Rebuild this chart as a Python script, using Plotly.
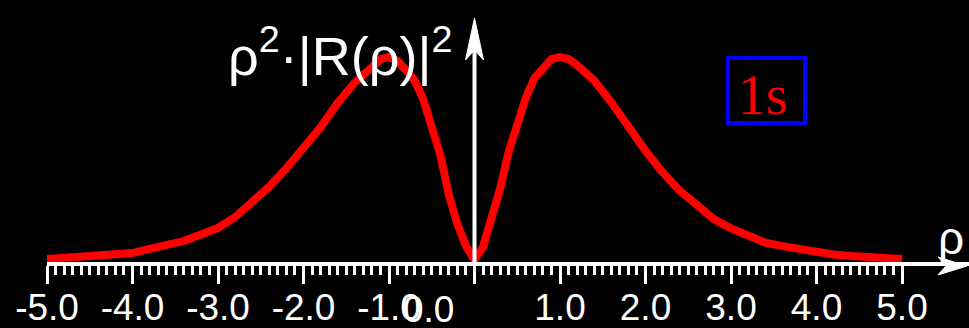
import numpy as np
import plotly.graph_objects as go

# ---- data (normalised rho^2 |R(rho)|^2 for 1s) ----
rho = [-5.0, -4.8, -4.6, -4.4, -4.2, -4.0, -3.8, -3.6, -3.4, -3.2, -3.0, -2.8,
       -2.6, -2.4, -2.2, -2.0, -1.8, -1.6, -1.4, -1.2, -1.1, -1.0, -0.9, -0.8,
       -0.7, -0.6, -0.5, -0.4, -0.3, -0.2, -0.1, 0.0,
       0.1, 0.2, 0.3, 0.4, 0.5, 0.6, 0.7, 0.8, 0.9, 1.0, 1.1, 1.2, 1.4, 1.6,
       1.8, 2.0, 2.2, 2.4, 2.6, 2.8, 3.0, 3.2, 3.4, 3.6, 3.8, 4.0, 4.2, 4.4,
       4.6, 4.8, 5.0]
density = [0.005, 0.010, 0.015, 0.020, 0.027, 0.034, 0.054, 0.074, 0.093, 0.125, 0.157, 0.210,
           0.280, 0.360, 0.450, 0.550, 0.650, 0.770, 0.870, 0.945, 0.985, 0.995, 0.975, 0.930,
           0.880, 0.790, 0.655, 0.515, 0.320, 0.175, 0.070, 0.0,
           0.065, 0.196, 0.350, 0.530, 0.670, 0.795, 0.890, 0.945, 0.985, 0.995, 0.985, 0.955, 0.880, 0.773,
           0.650, 0.535, 0.430, 0.340, 0.270, 0.200, 0.155, 0.115, 0.085, 0.068, 0.052, 0.036, 0.027, 0.020,
           0.015, 0.010, 0.005]

major_ticks = [-5, -4, -3, -2, -1, 0, 1, 2, 3, 4, 5]
major_labels = ["-5.0", "-4.0", "-3.0", "-2.0", "-1.0", "", "1.0", "2.0", "3.0", "4.0", "5.0"]
zero_label = "0.0"
y_title = "ρ<sup>2</sup>·|R(ρ)|<sup>2</sup>"
x_title = "ρ"
legend_text = "1s"

minor_ticks = [round(v, 1) for v in np.arange(-5.0, 5.01, 0.1) if abs(v - round(v)) > 1e-6]

# ---- pixel <-> data helpers for decorations ----
W, H = 969, 328
X0, SX = 474.5, 85.5      # pixel of rho=0, pixels per unit
Y0, SY = 260.0, 204.0     # pixel of density 0, pixels per unit
LEFT = 47
AXIS_Y = 264              # pixel row of the rho axis


def px(p):
    return (p - X0) / SX


def py(p):
    return (Y0 - p) / SY


fig = go.Figure()
fig.add_trace(go.Scatter(x=rho, y=density, mode="lines",
                         line=dict(color="#ff0000", width=8),
                         hoverinfo="skip", showlegend=False))

shapes = []
# vertical axis with arrow
shapes.append(dict(type="line", xref="x", yref="y", x0=0, x1=0, y0=py(266), y1=py(40),
                   line=dict(color="white", width=4)))
shapes.append(dict(type="path", xref="x", yref="y",
                   path=f"M {px(474.5)},{py(18)} L {px(465.5)},{py(60)} L {px(474.5)},{py(50)} "
                        f"L {px(483.5)},{py(60)} Z",
                   fillcolor="white", line=dict(color="white", width=1)))
# right arrow on rho axis
shapes.append(dict(type="path", xref="x", yref="y",
                   path=f"M {px(967)},{py(266)} L {px(938)},{py(257)} L {px(946)},{py(266)} "
                        f"L {px(938)},{py(275)} Z",
                   fillcolor="white", line=dict(color="white", width=1)))
# legend box
shapes.append(dict(type="rect", xref="x", yref="y", x0=px(728), x1=px(805), y0=py(58), y1=py(123),
                   line=dict(color="#0000ff", width=4)))

annotations = [
    dict(x=px(226), y=py(52), xref="x", yref="y", text=y_title, showarrow=False,
         xanchor="left", yanchor="middle",
         font=dict(family="Liberation Sans", size=54, color="white")),
    dict(x=px(951), y=py(238), xref="x", yref="y", text=x_title, showarrow=False,
         xanchor="center", yanchor="middle",
         font=dict(family="Liberation Sans", size=46, color="white")),
    dict(x=px(428), y=py(309), xref="x", yref="y", text=zero_label, showarrow=False,
         xanchor="center", yanchor="middle",
         font=dict(family="Liberation Sans", size=37, color="white")),
    dict(x=px(763), y=py(95), xref="x", yref="y", text=legend_text, showarrow=False,
         xanchor="center", yanchor="middle",
         font=dict(family="Liberation Serif", size=56, color="#ff0000")),
]

fig.update_layout(
    width=W, height=H,
    margin=dict(l=LEFT, r=0, t=0, b=0, pad=0),
    paper_bgcolor="black", plot_bgcolor="black",
    shapes=shapes, annotations=annotations,
    xaxis=dict(range=[-5, px(W)], showgrid=False, zeroline=False,
               anchor="free", position=(H - AXIS_Y) / H,
               showline=True, linecolor="white", linewidth=4,
               tickmode="array", tickvals=major_ticks, ticktext=major_labels,
               ticks="outside", ticklen=18, tickwidth=3, tickcolor="white",
               ticklabelstandoff=-8,
               tickfont=dict(family="Liberation Sans", size=37, color="white"),
               minor=dict(tickmode="array", tickvals=minor_ticks, ticks="outside",
                          ticklen=9, tickwidth=3, tickcolor="white", showgrid=False),
               automargin=False, fixedrange=True),
    yaxis=dict(range=[py(H), py(0)], visible=False, fixedrange=True),
)

fig.write_html("out.html", config={"displayModeBar": False},
               post_script="document.body.style.margin='0';document.body.style.background='black';"
                           "document.body.style.overflow='hidden';")
